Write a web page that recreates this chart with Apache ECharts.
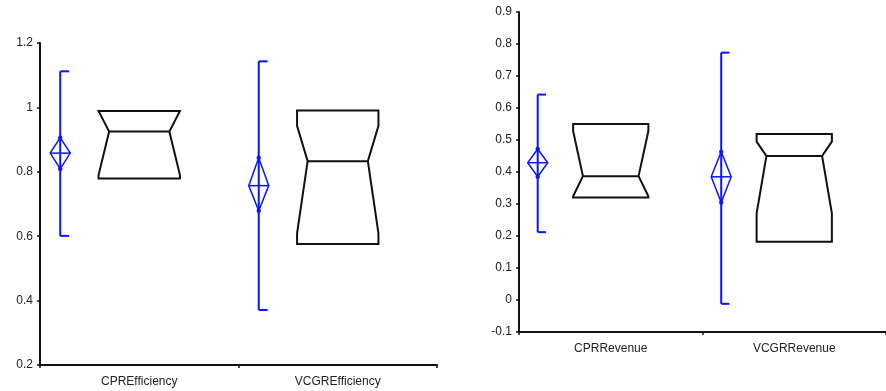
<!DOCTYPE html>
<html>
<head>
<meta charset="utf-8">
<script src="https://cdn.jsdelivr.net/npm/echarts@6/dist/echarts.min.js"></script>
<style>
html,body{margin:0;padding:0;background:#fff;}
#c{width:886px;height:391px;}
</style>
</head>
<body>
<div id="c"></div>
<script>
// ---- Data ----
var categoriesLeft = ['CPREfficiency', 'VCGREfficiency'];
var categoriesRight = ['CPRRevenue', 'VCGRRevenue'];

// Left panel (Efficiency)
var effWhiskerMin = [0.601, 0.371];
var effWhiskerMax = [1.112, 1.143];
var effMean = [0.858, 0.757];
var effMeanLow = [0.809, 0.679];
var effMeanHigh = [0.906, 0.844];
var effQ1 = [0.779, 0.576];
var effQ3 = [0.989, 0.990];
var effMedian = [0.925, 0.833];
var effNotchLow = [0.790, 0.609];
var effNotchHigh = [0.989, 0.943];

// Right panel (Revenue)
var revWhiskerMin = [0.212, -0.012];
var revWhiskerMax = [0.642, 0.773];
var revMean = [0.429, 0.385];
var revMeanLow = [0.385, 0.305];
var revMeanHigh = [0.472, 0.463];
var revQ1 = [0.320, 0.182];
var revQ3 = [0.550, 0.519];
var revMedian = [0.387, 0.450];
var revNotchLow = [0.324, 0.271];
var revNotchHigh = [0.528, 0.495];

var leftTicks = {min: 0.2, max: 1.2, interval: 0.2};
var rightTicks = {min: -0.1, max: 0.9, interval: 0.1};

function buildData(wMin, wMax, mean, mLow, mHigh, q1, q3, med, nLow, nHigh) {
  var out = [];
  for (var i = 0; i < wMin.length; i++) {
    out.push([i, wMin[i], wMax[i], mean[i], mLow[i], mHigh[i], q1[i], q3[i], med[i], nLow[i], nHigh[i]]);
  }
  return out;
}

var BLUE = '#0a14ff';
var BLACK = '#111';

function renderItem(params, api) {
  var i = api.value(0);
  var band = api.size([1, 0])[0];
  var cx = api.coord([i, 0])[0];
  function y(v) { return api.coord([i, v])[1]; }
  var ex = cx - 0.398 * band;
  var cap = 0.045 * band;
  var dw = 10;
  var bw = 0.41 * band;
  var bwi = bw * 0.74;
  var L = cx - bw / 2, R = cx + bw / 2, Li = cx - bwi / 2, Ri = cx + bwi / 2;
  var yMin = y(api.value(1)), yMax = y(api.value(2));
  var yMean = y(api.value(3)), yML = y(api.value(4)), yMH = y(api.value(5));
  var yQ1 = y(api.value(6)), yQ3 = y(api.value(7)), yMed = y(api.value(8));
  var yNL = y(api.value(9)), yNH = y(api.value(10));
  var children = [
    {type: 'line', shape: {x1: ex, y1: yMax, x2: ex, y2: yMin}, style: {stroke: BLUE, lineWidth: 2}},
    {type: 'line', shape: {x1: ex, y1: yMax, x2: ex + cap, y2: yMax}, style: {stroke: BLUE, lineWidth: 2}},
    {type: 'line', shape: {x1: ex, y1: yMin, x2: ex + cap, y2: yMin}, style: {stroke: BLUE, lineWidth: 2}},
    {type: 'polygon', shape: {points: [[ex, yMH], [ex + dw, yMean], [ex, yML], [ex - dw, yMean]]},
      style: {fill: 'none', stroke: BLUE, lineWidth: 1.5}},
    {type: 'line', shape: {x1: ex - dw, y1: yMean, x2: ex + dw, y2: yMean}, style: {stroke: BLUE, lineWidth: 1.5}},
    {type: 'circle', shape: {cx: ex, cy: yMH, r: 2.2}, style: {fill: BLUE}},
    {type: 'circle', shape: {cx: ex, cy: yML, r: 2.2}, style: {fill: BLUE}},
    {type: 'polygon', shape: {points: [
      [L, yQ1], [L, yNL], [Li, yMed], [L, yNH], [L, yQ3],
      [R, yQ3], [R, yNH], [Ri, yMed], [R, yNL], [R, yQ1]
    ]}, style: {fill: 'none', stroke: BLACK, lineWidth: 2}},
    {type: 'line', shape: {x1: Li, y1: yMed, x2: Ri, y2: yMed}, style: {stroke: BLACK, lineWidth: 2}}
  ];
  return {type: 'group', children: children};
}

var labelFont = {fontFamily: 'Liberation Sans, Arial, sans-serif', fontSize: 12, color: '#222'};

function xAxisCfg(cats, gi) {
  return {
    type: 'category', gridIndex: gi, data: cats, boundaryGap: true,
    axisLine: {onZero: false, lineStyle: {color: BLACK, width: 2}},
    axisTick: {show: true, length: 3, lineStyle: {color: BLACK, width: 1.5}},
    axisLabel: Object.assign({margin: 11}, labelFont),
    splitLine: {show: false}
  };
}
function yAxisCfg(t, gi) {
  return {
    type: 'value', gridIndex: gi, min: t.min, max: t.max, interval: t.interval,
    axisLine: {show: true, lineStyle: {color: BLACK, width: 2}},
    axisTick: {show: true, length: 3, lineStyle: {color: BLACK, width: 1.5}},
    axisLabel: Object.assign({margin: 7}, labelFont),
    splitLine: {show: false}
  };
}

var chart = echarts.init(document.getElementById('c'), null, {renderer: 'canvas'});
chart.setOption({
  animation: false,
  backgroundColor: '#fff',
  grid: [
    {left: 40, top: 43, width: 397, height: 322},
    {left: 519, top: 12, width: 375, height: 320}
  ],
  xAxis: [xAxisCfg(categoriesLeft, 0), xAxisCfg(categoriesRight, 1)],
  yAxis: [yAxisCfg(leftTicks, 0), yAxisCfg(rightTicks, 1)],
  series: [
    {type: 'custom', xAxisIndex: 0, yAxisIndex: 0, renderItem: renderItem, clip: false,
      encode: {x: 0, y: [1, 2]},
      data: buildData(effWhiskerMin, effWhiskerMax, effMean, effMeanLow, effMeanHigh, effQ1, effQ3, effMedian, effNotchLow, effNotchHigh)},
    {type: 'custom', xAxisIndex: 1, yAxisIndex: 1, renderItem: renderItem, clip: false,
      encode: {x: 0, y: [1, 2]},
      data: buildData(revWhiskerMin, revWhiskerMax, revMean, revMeanLow, revMeanHigh, revQ1, revQ3, revMedian, revNotchLow, revNotchHigh)}
  ]
});
</script>
</body>
</html>
